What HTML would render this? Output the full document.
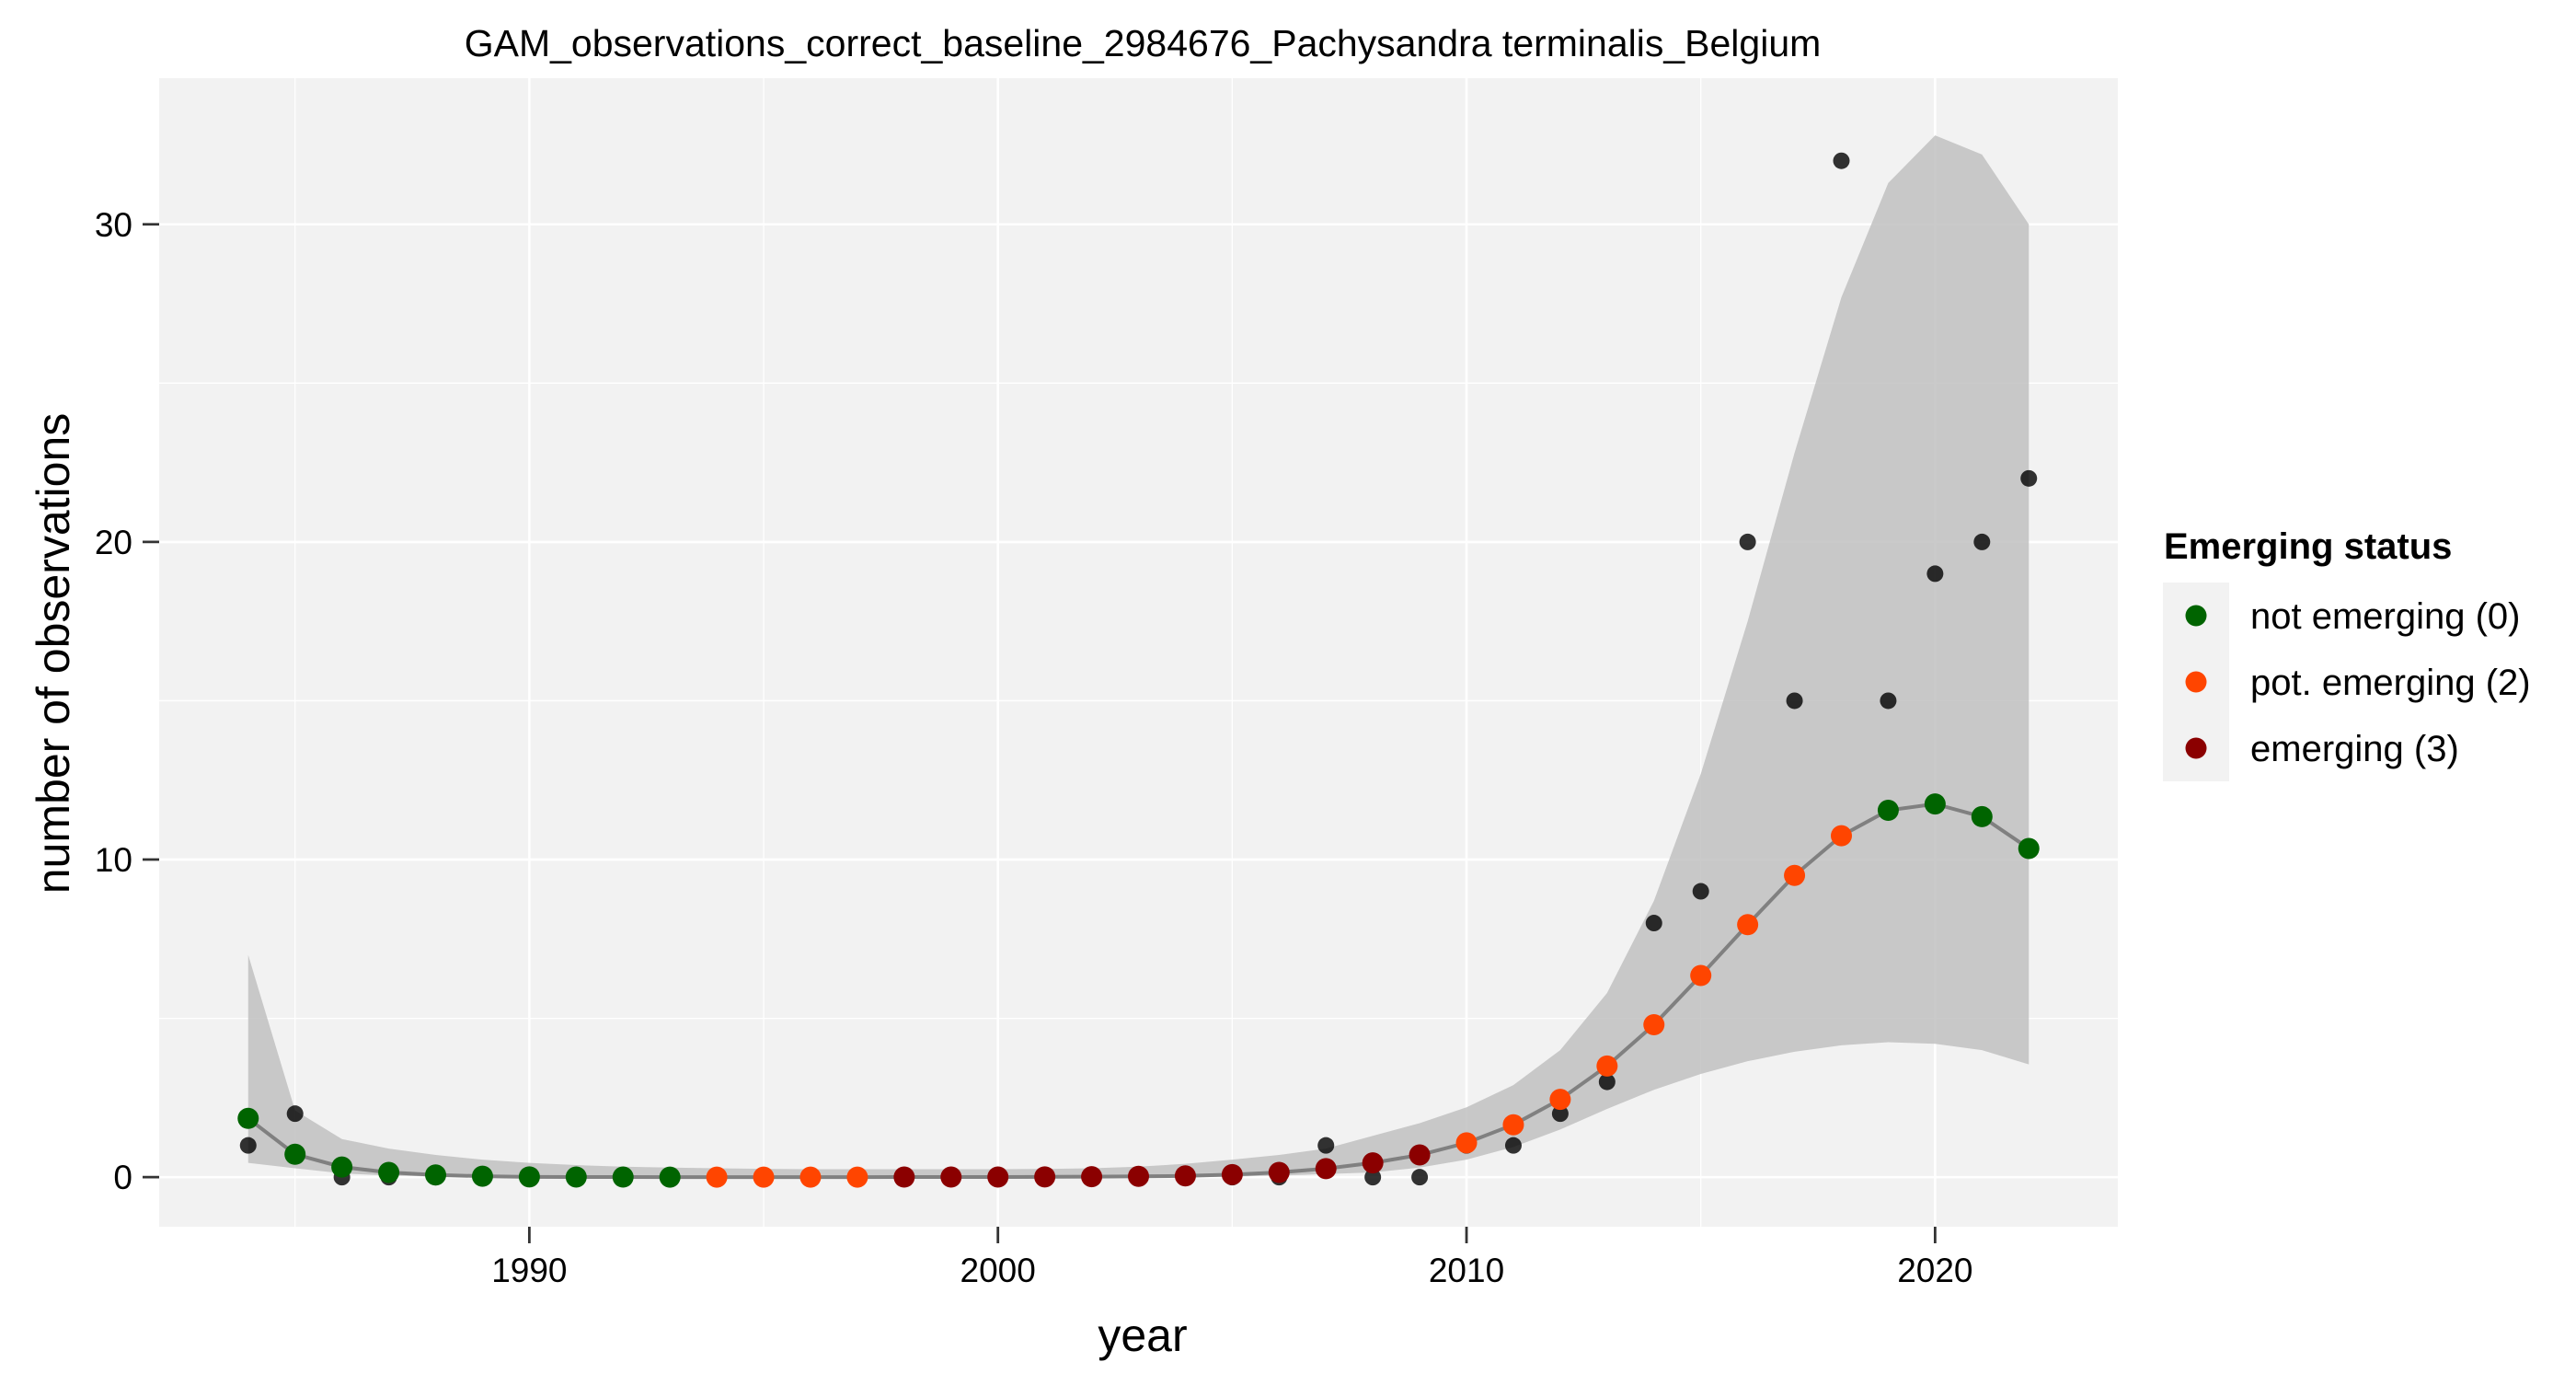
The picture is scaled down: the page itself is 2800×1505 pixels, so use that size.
<!DOCTYPE html>
<html><head><meta charset="utf-8"><style>
body{margin:0;background:#fff}
svg text{font-family:"Liberation Sans",Arial,sans-serif}
</style></head><body>
<svg id="chart" width="2800" height="1500" xmlns="http://www.w3.org/2000/svg">
<rect width="2800" height="1500" fill="#fff"/>
<text x="1242" y="61" font-size="41" text-anchor="middle">GAM_observations_correct_baseline_2984676_Pachysandra terminalis_Belgium</text>
<rect x="173" y="85" width="2129" height="1248" fill="#f2f2f2"/>
<g id="grid"></g>
<g id="marks"></g>
<g id="axes"></g>
<text x="1242" y="1468" font-size="50" text-anchor="middle">year</text>
<text transform="translate(75,710) rotate(-90)" font-size="50" text-anchor="middle">number of observations</text>
<g>
<text x="2352" y="607" font-size="40" font-weight="bold">Emerging status</text>
<rect x="2351" y="633" width="72" height="216" fill="#f2f2f2"/>
<circle cx="2387" cy="669" r="11.5" fill="#006400"/>
<text x="2446" y="683" font-size="40">not emerging (0)</text>
<circle cx="2387" cy="741" r="11.5" fill="#ff4500"/>
<text x="2446" y="755" font-size="40">pot. emerging (2)</text>
<circle cx="2387" cy="813" r="11.5" fill="#8b0000"/>
<text x="2446" y="827" font-size="40">emerging (3)</text>
</g>
</svg>
<script>
const years=[1984,1985,1986,1987,1988,1989,1990,1991,1992,1993,1994,1995,1996,1997,1998,1999,2000,2001,2002,2003,2004,2005,2006,2007,2008,2009,2010,2011,2012,2013,2014,2015,2016,2017,2018,2019,2020,2021,2022];
const fitValues=[1.85,0.72,0.32,0.15,0.07,0.03,0.01,0.005,0.003,0.002,0.002,0.002,0.002,0.002,0.003,0.004,0.006,0.01,0.015,0.025,0.04,0.08,0.15,0.27,0.45,0.7,1.08,1.65,2.45,3.5,4.8,6.35,7.95,9.5,10.75,11.55,11.75,11.35,10.35];
const upperValues=[7.0,2.1,1.2,0.9,0.7,0.55,0.45,0.38,0.33,0.3,0.28,0.26,0.25,0.25,0.25,0.25,0.25,0.26,0.28,0.33,0.42,0.55,0.7,0.9,1.3,1.7,2.2,2.9,4.0,5.8,8.7,12.7,17.5,22.8,27.7,31.3,32.8,32.2,30.0];
const lowerValues=[0.45,0.28,0.12,0.05,0.02,0.01,0,0,0,0,0,0,0,0,0,0,0,0,0,0,0,0.02,0.05,0.1,0.15,0.3,0.55,0.95,1.5,2.15,2.75,3.25,3.65,3.95,4.15,4.25,4.2,4.0,3.55];
const observed=[1,2,0,0,0,0,0,0,0,0,0,0,0,0,0,0,0,0,0,0,0,0,0,1,0,0,1,1,2,3,8,9,20,15,32,15,19,20,22];
const status=[0,0,0,0,0,0,0,0,0,0,2,2,2,2,3,3,3,3,3,3,3,3,3,3,3,3,2,2,2,2,2,2,2,2,2,0,0,0,0];
const xTicks=[1990,2000,2010,2020];
const yTicks=[0,10,20,30];
const xMinor=[1985,1995,2005,2015];
const yMinor=[5,15,25];
const colors={0:"#006400",2:"#ff4500",3:"#8b0000"};
const PL=173,PR=2302,PT=85,PB=1333,X0=1982.1,X1=2023.9,Y0=-1.56,Y1=34.6;
const sx=v=>PL+(v-X0)/(X1-X0)*(PR-PL);
const sy=v=>PB-(v-Y0)/(Y1-Y0)*(PB-PT);
const NS="http://www.w3.org/2000/svg";
function mk(tag,parent,attrs){const e=document.createElementNS(NS,tag);for(const k in attrs)e.setAttribute(k,attrs[k]);parent.appendChild(e);return e;}
const grid=document.getElementById('grid'),marks=document.getElementById('marks'),axes=document.getElementById('axes');
xMinor.forEach(v=>{const l=mk('line',grid,{x1:sx(v),x2:sx(v),y1:PT,y2:PB,stroke:'#fff','stroke-width':1.3});

});
yMinor.forEach(v=>{const l=mk('line',grid,{x1:PL,x2:PR,y1:sy(v),y2:sy(v),stroke:'#fff','stroke-width':1.3});

});
xTicks.forEach(v=>{const l=mk('line',grid,{x1:sx(v),x2:sx(v),y1:PT,y2:PB,stroke:'#fff','stroke-width':2.6});


const t=mk('line',axes,{x1:sx(v),x2:sx(v),y1:PB,y2:PB+18,stroke:'#333','stroke-width':2.8});


const tx=mk('text',axes,{x:sx(v),y:PB+60,'font-size':37,'text-anchor':'middle',fill:'#000'});tx.textContent=v;

});
yTicks.forEach(v=>{const l=mk('line',grid,{x1:PL,x2:PR,y1:sy(v),y2:sy(v),stroke:'#fff','stroke-width':2.6});


const t=mk('line',axes,{x1:PL-18,x2:PL,y1:sy(v),y2:sy(v),stroke:'#333','stroke-width':2.8});


const tx=mk('text',axes,{x:PL-29,y:sy(v)+13,'font-size':37,'text-anchor':'end',fill:'#000'});tx.textContent=v;

});
let pts=years.map((y,i)=>sx(y)+','+sy(upperValues[i]));
for(let i=years.length-1;i>=0;i--)pts.push(sx(years[i])+','+sy(lowerValues[i]));
const band=mk('polygon',marks,{points:pts.join(' '),fill:'#bdbdbd','fill-opacity':0.8});


years.forEach((y,i)=>{const c=mk('circle',marks,{cx:sx(y),cy:sy(observed[i]),r:9,fill:'#000','fill-opacity':0.8});

});
const line=mk('polyline',marks,{points:years.map((y,i)=>sx(y)+','+sy(fitValues[i])).join(' '),fill:'none',stroke:'#808080','stroke-width':4});


years.forEach((y,i)=>{const c=mk('circle',marks,{cx:sx(y),cy:sy(fitValues[i]),r:11.5,fill:colors[status[i]]});

});
</script>
</body></html>
